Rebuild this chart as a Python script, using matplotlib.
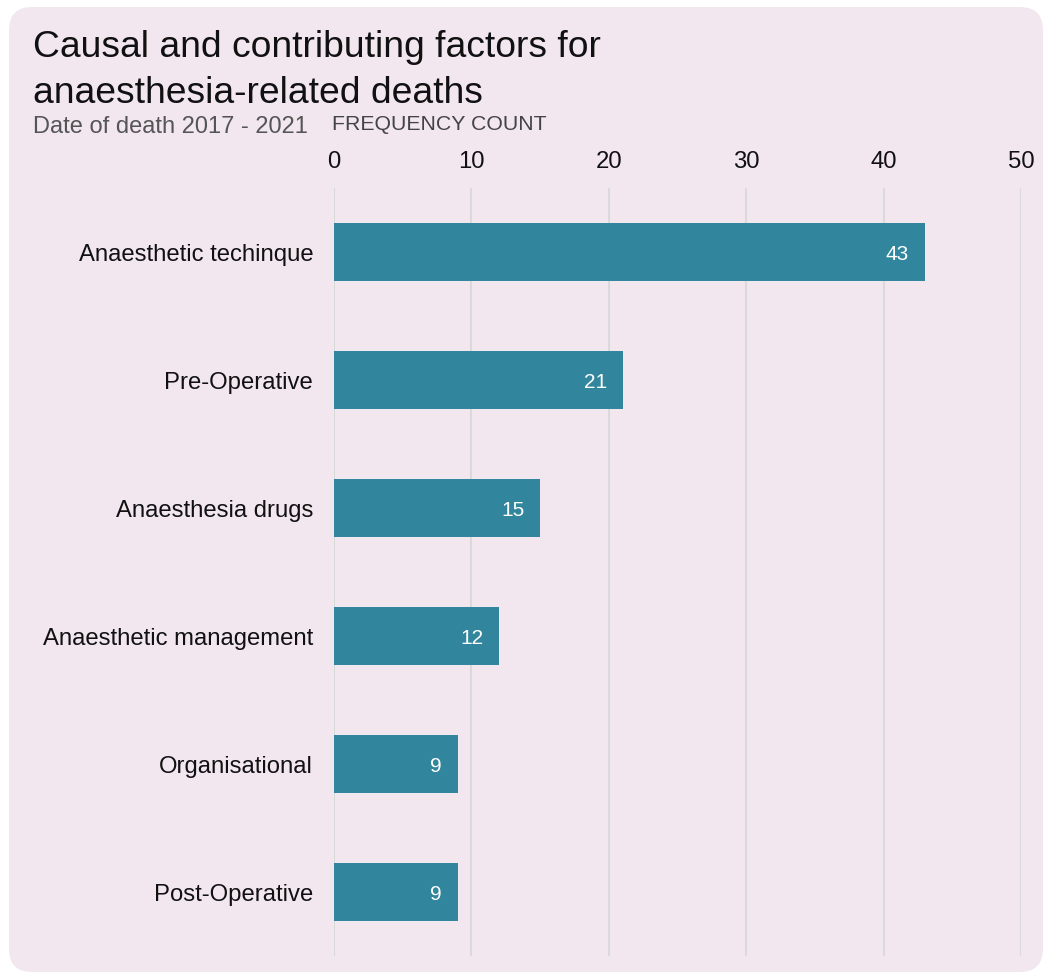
import matplotlib.pyplot as plt
from matplotlib.patches import FancyBboxPatch

plt.rcParams['font.family'] = ['Liberation Sans', 'DejaVu Sans']

categories = ["Anaesthetic techinque", "Pre-Operative", "Anaesthesia drugs",
              "Anaesthetic management", "Organisational", "Post-Operative"]
counts = [43, 21, 15, 12, 9, 9]
xticks = [0, 10, 20, 30, 40, 50]

bg = '#f2e7ef'
bar_color = '#31859c'

fig = plt.figure(figsize=(10.48, 9.75), dpi=100)
W, H = 1048, 975

# rounded panel behind everything
panel = FancyBboxPatch((9 / W, 3 / H), (1043 - 9) / W, (968 - 3) / H,
                       boxstyle="round,pad=0,rounding_size=0.022",
                       transform=fig.transFigure, facecolor=bg,
                       edgecolor='none', zorder=-5, mutation_aspect=W / H)
fig.patches.append(panel)

# axes: x from 0..50 spans px 334..1021, y spans px 188..956
ax = fig.add_axes([334 / W, 1 - 956 / H, (1021 - 334) / W, (956 - 188) / H])
ax.set_facecolor('none')
ax.set_zorder(2)

ypos = list(range(len(categories)))
ax.barh(ypos, counts, height=0.45, color=bar_color, zorder=3)
for y, v in zip(ypos, counts):
    ax.text(v - 1.15, y, str(v), color='white', fontsize=15,
            ha='right', va='center_baseline', zorder=4)

ax.set_xlim(0, 50)
ax.set_ylim(len(categories) - 0.5, -0.5)
ax.set_xticks(xticks)
ax.xaxis.tick_top()
ax.tick_params(axis='x', length=0, labelsize=17.2, pad=11, labelcolor='#111111')
ax.set_yticks(ypos)
ax.set_yticklabels(categories)
ax.tick_params(axis='y', length=0, labelsize=17.2, pad=15, labelcolor='#111111')
for x in xticks:
    ax.axvline(x, color='#dadada', lw=1.5, zorder=1)
for s in ax.spines.values():
    s.set_visible(False)

fig.text(33 / W, 1 - 57 / H, "Causal and contributing factors for",
         fontsize=26.8, color='#111111', va='baseline')
fig.text(33 / W, 1 - 103 / H, "anaesthesia-related deaths",
         fontsize=26.8, color='#111111', va='baseline')
fig.text(33 / W, 1 - 133 / H, "Date of death 2017 - 2021",
         fontsize=17, color='#555555', va='baseline')
fig.text(332 / W, 1 - 130 / H, "FREQUENCY COUNT",
         fontsize=15.3, color='#444444', va='baseline')

fig.savefig('out.png', dpi=100, facecolor='white')
